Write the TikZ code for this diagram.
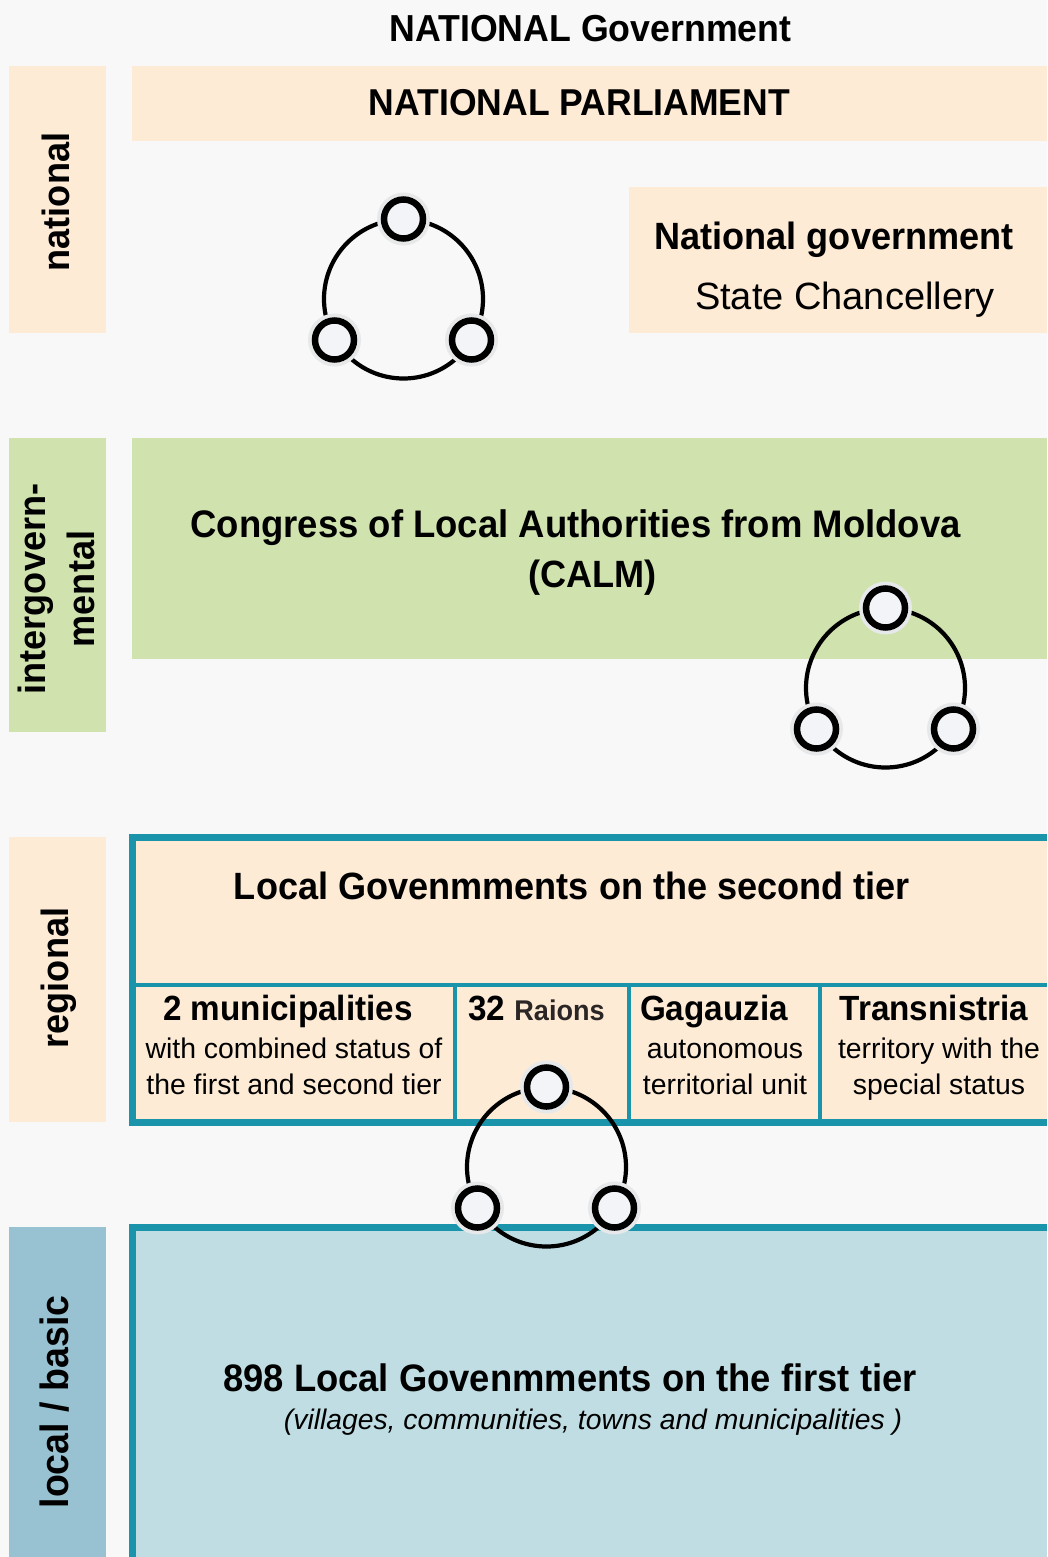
\documentclass[tikz,border=0pt]{standalone}
\usepackage{fontspec}
\setmainfont{Liberation Sans}
\newfontfamily\bfam[FakeStretch=0.95]{Liberation Sans Bold}
\definecolor{pagebg}{HTML}{F8F8F8}
\definecolor{peach}{HTML}{FEEBD6}
\definecolor{leaf}{HTML}{D0E3AE}
\definecolor{teal}{HTML}{1A94AB}
\definecolor{icebox}{HTML}{BFDDE3}
\definecolor{icelabel}{HTML}{98C2D1}
\definecolor{halo}{HTML}{E6E8EA}
\definecolor{dot}{HTML}{F2F4F7}
\definecolor{raion}{HTML}{2B2626}
\tikzset{
  x=1pt,y=-1pt,
  tealline/.style={draw=teal,line width=7pt},
  tealthin/.style={draw=teal,line width=4pt},
  head/.style={inner sep=0pt,anchor=base,font=\bfam\fontsize{38}{38}\selectfont,text=black},
  sub/.style={inner sep=0pt,anchor=base,font=\bfam\fontsize{35}{35}\selectfont,text=black},
  plain/.style={inner sep=0pt,anchor=base,font=\fontsize{38}{38}\selectfont,text=black},
  small/.style={inner sep=0pt,anchor=base,font=\fontsize{28.4}{28.4}\selectfont,text=black},
  side/.style={inner sep=0pt,rotate=90,font=\bfam\fontsize{38}{49}\selectfont,align=center,text=black},
  haloring/.style={circle,fill=halo,minimum size=53pt,inner sep=0pt},
  ringdot/.style={circle,draw=black,line width=6.5pt,fill=dot,minimum size=39pt,inner sep=0pt},
  ringarc/.style={draw=black,line width=4.2pt}
}
\newcommand{\triring}[3]{%
  \draw[ringarc] (#2,#3) circle[radius=79.5];
  \node[haloring] at (#2,#3-80) {};
  \node[haloring] at (#2-69,#3+41) {};
  \node[haloring] at (#2+68,#3+41) {};
  \node[ringdot] (#1t) at (#2,#3-80) {};
  \node[ringdot] (#1l) at (#2-69,#3+41) {};
  \node[ringdot] (#1r) at (#2+68,#3+41) {};
}
\begin{document}
\begin{tikzpicture}
\useasboundingbox (0,0) rectangle (1047,1557);
\fill[pagebg] (0,0) rectangle (1047,1557);
% side bands
\fill[peach] (9,66) rectangle (106,333);
\fill[leaf] (9,438) rectangle (106,732);
\fill[peach] (9,837) rectangle (106,1122);
\fill[icelabel] (9,1227) rectangle (106,1557);
% main bands
\fill[peach] (132,66) rectangle (1047,141);
\fill[peach] (629,187) rectangle (1047,333);
\fill[leaf] (132,438) rectangle (1047,659);
\fill[peach] (132,837) rectangle (1047,1122);
\fill[icebox] (132,1227) rectangle (1047,1557);
% teal frames
\draw[tealline] (132.5,1126) -- (132.5,837.5) -- (1047,837.5);
\draw[tealline] (129,1122) -- (1047,1122);
\draw[tealthin] (136,985) -- (1047,985);
\draw[tealthin] (455,985) -- (455,1120);
\draw[tealthin] (628.5,985) -- (628.5,1120);
\draw[tealthin] (820,985) -- (820,1120);
\draw[tealline] (132.5,1557) -- (132.5,1227.5) -- (1047,1227.5);
% side labels
\node[side] (n1) at (56,202) {national};
\node[side] (n2) at (56,589) {intergovern-\\mental};
\node[side] (n3) at (59,978) {regional};
\node[side,font=\bfam\fontsize{39.5}{47}\selectfont] (n4) at (54.5,1402) {local / basic};
% titles
\node[head,font=\bfam\fontsize{37.6}{38}\selectfont] (t0) at (590.5,42) {NATIONAL Government};
\node[head,font=\bfam\fontsize{37.4}{38}\selectfont] (t1) at (579.5,116) {NATIONAL PARLIAMENT};
\node[head] (t2) at (834,249) {National government};
\node[plain] (t3) at (845,309) {State Chancellery};
\node[head,font=\bfam\fontsize{38.4}{38}\selectfont] (t4) at (575.5,537) {Congress of Local Authorities from Moldova};
\node[head] (t5) at (592.5,587) {(CALM)};
\node[head] (t6) at (572,899) {Local Govenmments on the second tier};
\node[sub] (c1) at (288,1020) {2 municipalities};
\node[small] (c1a) at (294,1058) {with combined status of};
\node[small] (c1b) at (294,1094) {the first and second tier};
\node[inner sep=0pt,anchor=base west] (c2) at (468,1020) {\bfam\fontsize{35}{35}\selectfont 32 \textcolor{raion}{\fontsize{28.5}{28.5}\selectfont Raions}};
\node[sub] (c3) at (714,1020) {Gagauzia};
\node[small] (c3a) at (725,1058) {autonomous};
\node[small] (c3b) at (725,1094) {territorial unit};
\node[sub] (c4) at (934,1020) {Transnistria};
\node[small] (c4a) at (939,1058) {territory with the};
\node[small] (c4b) at (939,1094) {special status};
\node[head,font=\bfam\fontsize{38.3}{38}\selectfont] (t7) at (570,1391) {898 Local Govenmments on the first tier};
\node[small,font=\itshape\fontsize{28.3}{28.3}\selectfont] (t8) at (593,1429) {(villages, communities, towns and municipalities )};
% rings
\triring{a}{403.5}{299}
\triring{b}{885.5}{688}
\triring{c}{546.5}{1167}
\end{tikzpicture}
\end{document}
